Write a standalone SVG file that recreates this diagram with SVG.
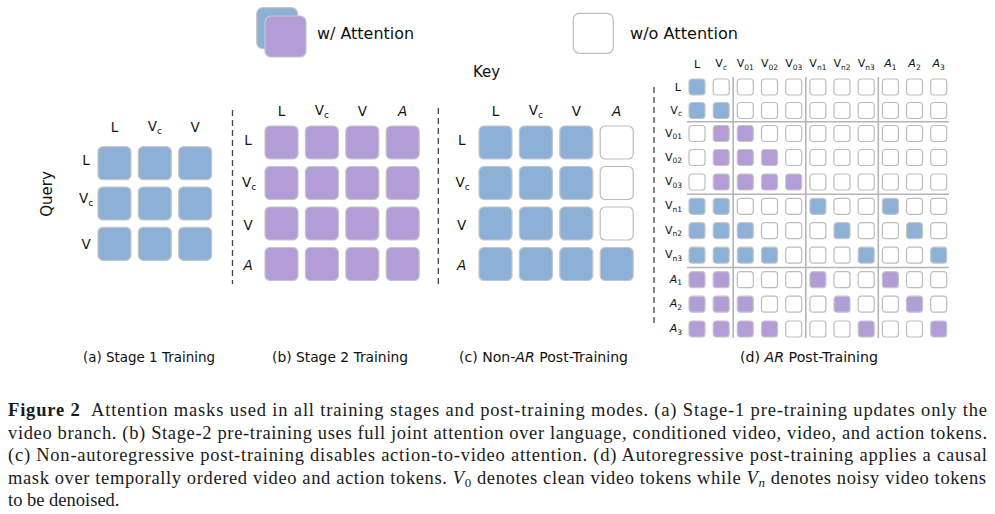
<svg xmlns="http://www.w3.org/2000/svg" xmlns:xlink="http://www.w3.org/1999/xlink" width="995" height="514" viewBox="0 0 995 514">
<style>
.b{fill:#8DB0D7;stroke:#C6C6C6;stroke-width:1.2}
.p{fill:#B39DD6;stroke:#C6C6C6;stroke-width:1.2}
.w{fill:#FFFFFF;stroke:#BDBDBD;stroke-width:1.2}
.lb{font-family:"DejaVu Sans",sans-serif;font-size:13.5px;fill:#111}
.pc{font-family:"DejaVu Sans",sans-serif;font-size:14px;fill:#111}
.lg{font-family:"DejaVu Sans",sans-serif;font-size:15px;fill:#111}
.lm{font-family:"DejaVu Sans",sans-serif;font-size:11px;fill:#111}
.sub{font-size:9px}
.subm{font-size:7.5px}
.it{font-style:italic}
.cap{font-family:"Liberation Serif",serif;font-size:18.5px;fill:#1a1a1a}
.dash{stroke:#444;stroke-width:1.3;stroke-dasharray:6 4;fill:none}
.grid{stroke:#B5B5B5;stroke-width:1.6}
</style>
<defs>
<rect id="S" width="33" height="33" rx="5"/>
<rect id="s" width="16" height="16" rx="3"/>
</defs>

<g id="legend">
<rect class="b" x="256.7" y="7.7" width="41" height="41" rx="6"/>
<rect class="p" x="265" y="16" width="41" height="41" rx="6"/>
<text class="lg" x="317" y="39" textLength="97" lengthAdjust="spacingAndGlyphs">w/ Attention</text>
<rect class="w" x="573.3" y="13.3" width="40" height="40" rx="6"/>
<text class="lg" x="630" y="39" textLength="108" lengthAdjust="spacingAndGlyphs">w/o Attention</text>
<text class="lg" x="473" y="77">Key</text>
<text class="lg" transform="translate(52,194) rotate(-90)" text-anchor="middle">Query</text>
</g>

<g id="separators">
<line class="dash" x1="232.5" y1="110" x2="232.5" y2="284"/>
<line class="dash" x1="438.3" y1="108" x2="438.3" y2="285"/>
<line class="dash" x1="654" y1="87" x2="654" y2="324"/>
</g>

<g id="panel-a">
<text class="lb" x="114.5" y="132" text-anchor="middle">L</text>
<text class="lb" x="154.8" y="131" text-anchor="middle">V<tspan class="sub" dy="3">c</tspan></text>
<text class="lb" x="195.1" y="132" text-anchor="middle">V</text>
<text class="lb" x="86" y="165" text-anchor="middle">L</text>
<text class="lb" x="86" y="203" text-anchor="middle">V<tspan class="sub" dy="3">c</tspan></text>
<text class="lb" x="86" y="249" text-anchor="middle">V</text>
<use xlink:href="#S" class="b" x="98" y="146.7"/><use xlink:href="#S" class="b" x="138.3" y="146.7"/><use xlink:href="#S" class="b" x="178.6" y="146.7"/>
<use xlink:href="#S" class="b" x="98" y="187"/><use xlink:href="#S" class="b" x="138.3" y="187"/><use xlink:href="#S" class="b" x="178.6" y="187"/>
<use xlink:href="#S" class="b" x="98" y="227.3"/><use xlink:href="#S" class="b" x="138.3" y="227.3"/><use xlink:href="#S" class="b" x="178.6" y="227.3"/>
<text class="pc" x="83" y="362" textLength="132" lengthAdjust="spacingAndGlyphs">(a) Stage 1 Training</text>
</g>

<g id="panel-b">
<text class="lb" x="281.5" y="116" text-anchor="middle">L</text>
<text class="lb" x="321.9" y="115" text-anchor="middle">V<tspan class="sub" dy="3">c</tspan></text>
<text class="lb" x="362.3" y="116" text-anchor="middle">V</text>
<text class="lb it" x="402.7" y="116" text-anchor="middle">A</text>
<text class="lb" x="248" y="145" text-anchor="middle">L</text>
<text class="lb" x="249" y="187" text-anchor="middle">V<tspan class="sub" dy="3">c</tspan></text>
<text class="lb" x="248" y="229.5" text-anchor="middle">V</text>
<text class="lb it" x="248" y="269.5" text-anchor="middle">A</text>
<use xlink:href="#S" class="p" x="265" y="126"/><use xlink:href="#S" class="p" x="305.4" y="126"/><use xlink:href="#S" class="p" x="345.8" y="126"/><use xlink:href="#S" class="p" x="386.2" y="126"/>
<use xlink:href="#S" class="p" x="265" y="166.5"/><use xlink:href="#S" class="p" x="305.4" y="166.5"/><use xlink:href="#S" class="p" x="345.8" y="166.5"/><use xlink:href="#S" class="p" x="386.2" y="166.5"/>
<use xlink:href="#S" class="p" x="265" y="207"/><use xlink:href="#S" class="p" x="305.4" y="207"/><use xlink:href="#S" class="p" x="345.8" y="207"/><use xlink:href="#S" class="p" x="386.2" y="207"/>
<use xlink:href="#S" class="p" x="265" y="247.5"/><use xlink:href="#S" class="p" x="305.4" y="247.5"/><use xlink:href="#S" class="p" x="345.8" y="247.5"/><use xlink:href="#S" class="p" x="386.2" y="247.5"/>
<text class="pc" x="272" y="362" textLength="136" lengthAdjust="spacingAndGlyphs">(b) Stage 2 Training</text>
</g>

<g id="panel-c">
<text class="lb" x="495.5" y="116" text-anchor="middle">L</text>
<text class="lb" x="535.9" y="115" text-anchor="middle">V<tspan class="sub" dy="3">c</tspan></text>
<text class="lb" x="576.3" y="116" text-anchor="middle">V</text>
<text class="lb it" x="616.7" y="116" text-anchor="middle">A</text>
<text class="lb" x="461.7" y="145" text-anchor="middle">L</text>
<text class="lb" x="462.7" y="187" text-anchor="middle">V<tspan class="sub" dy="3">c</tspan></text>
<text class="lb" x="461.7" y="229.5" text-anchor="middle">V</text>
<text class="lb it" x="461.7" y="269.5" text-anchor="middle">A</text>
<use xlink:href="#S" class="b" x="479" y="126"/><use xlink:href="#S" class="b" x="519.4" y="126"/><use xlink:href="#S" class="b" x="559.8" y="126"/><use xlink:href="#S" class="w" x="600.2" y="126"/>
<use xlink:href="#S" class="b" x="479" y="166.5"/><use xlink:href="#S" class="b" x="519.4" y="166.5"/><use xlink:href="#S" class="b" x="559.8" y="166.5"/><use xlink:href="#S" class="w" x="600.2" y="166.5"/>
<use xlink:href="#S" class="b" x="479" y="207"/><use xlink:href="#S" class="b" x="519.4" y="207"/><use xlink:href="#S" class="b" x="559.8" y="207"/><use xlink:href="#S" class="w" x="600.2" y="207"/>
<use xlink:href="#S" class="b" x="479" y="247.5"/><use xlink:href="#S" class="b" x="519.4" y="247.5"/><use xlink:href="#S" class="b" x="559.8" y="247.5"/><use xlink:href="#S" class="b" x="600.2" y="247.5"/>
<text class="pc" x="459" y="362" textLength="169" lengthAdjust="spacingAndGlyphs">(c) Non-<tspan class="it">AR</tspan> Post-Training</text>
</g>

<g id="panel-d">
<g id="d-grid">
<line class="grid" x1="733.2" y1="77" x2="733.2" y2="338"/>
<line class="grid" x1="805.8" y1="77" x2="805.8" y2="338"/>
<line class="grid" x1="878.3" y1="77" x2="878.3" y2="338"/>
<line class="grid" x1="687" y1="121.8" x2="949" y2="121.8"/>
<line class="grid" x1="687" y1="194.2" x2="949" y2="194.2"/>
<line class="grid" x1="687" y1="267.5" x2="949" y2="267.5"/>
</g>
<g id="d-col-labels">
<text class="lm" x="697" y="68" text-anchor="middle">L</text>
<text class="lm" x="721.2" y="67" text-anchor="middle">V<tspan class="subm" dy="2.5">c</tspan></text>
<text class="lm" x="745.3" y="67" text-anchor="middle">V<tspan class="subm" dy="2.5">01</tspan></text>
<text class="lm" x="769.5" y="67" text-anchor="middle">V<tspan class="subm" dy="2.5">02</tspan></text>
<text class="lm" x="793.7" y="67" text-anchor="middle">V<tspan class="subm" dy="2.5">03</tspan></text>
<text class="lm" x="817.9" y="67" text-anchor="middle">V<tspan class="subm" dy="2.5">n1</tspan></text>
<text class="lm" x="842" y="67" text-anchor="middle">V<tspan class="subm" dy="2.5">n2</tspan></text>
<text class="lm" x="866.2" y="67" text-anchor="middle">V<tspan class="subm" dy="2.5">n3</tspan></text>
<text class="lm" x="890.4" y="67" text-anchor="middle"><tspan class="it">A</tspan><tspan class="subm" dy="2.5">1</tspan></text>
<text class="lm" x="914.5" y="67" text-anchor="middle"><tspan class="it">A</tspan><tspan class="subm" dy="2.5">2</tspan></text>
<text class="lm" x="938.7" y="67" text-anchor="middle"><tspan class="it">A</tspan><tspan class="subm" dy="2.5">3</tspan></text>
</g>
<g id="d-row-labels">
<text class="lm" x="681" y="91" text-anchor="end">L</text>
<text class="lm" x="682" y="113.5" text-anchor="end">V<tspan class="subm" dy="2.5">c</tspan></text>
<text class="lm" x="682" y="136.5" text-anchor="end">V<tspan class="subm" dy="2.5">01</tspan></text>
<text class="lm" x="682" y="160.5" text-anchor="end">V<tspan class="subm" dy="2.5">02</tspan></text>
<text class="lm" x="682" y="185" text-anchor="end">V<tspan class="subm" dy="2.5">03</tspan></text>
<text class="lm" x="682" y="209.3" text-anchor="end">V<tspan class="subm" dy="2.5">n1</tspan></text>
<text class="lm" x="682" y="233.7" text-anchor="end">V<tspan class="subm" dy="2.5">n2</tspan></text>
<text class="lm" x="682" y="258.2" text-anchor="end">V<tspan class="subm" dy="2.5">n3</tspan></text>
<text class="lm" x="682" y="282.7" text-anchor="end"><tspan class="it">A</tspan><tspan class="subm" dy="2.5">1</tspan></text>
<text class="lm" x="682" y="307.2" text-anchor="end"><tspan class="it">A</tspan><tspan class="subm" dy="2.5">2</tspan></text>
<text class="lm" x="682" y="332" text-anchor="end"><tspan class="it">A</tspan><tspan class="subm" dy="2.5">3</tspan></text>
</g>
<g id="d-cells">
<!-- row L -->
<use xlink:href="#s" class="b" x="689" y="79"/><use xlink:href="#s" class="w" x="713.2" y="79"/><use xlink:href="#s" class="w" x="737.3" y="79"/><use xlink:href="#s" class="w" x="761.5" y="79"/><use xlink:href="#s" class="w" x="785.7" y="79"/><use xlink:href="#s" class="w" x="809.9" y="79"/><use xlink:href="#s" class="w" x="834" y="79"/><use xlink:href="#s" class="w" x="858.2" y="79"/><use xlink:href="#s" class="w" x="882.4" y="79"/><use xlink:href="#s" class="w" x="906.5" y="79"/><use xlink:href="#s" class="w" x="930.7" y="79"/>
<!-- row Vc -->
<use xlink:href="#s" class="b" x="689" y="102.5"/><use xlink:href="#s" class="b" x="713.2" y="102.5"/><use xlink:href="#s" class="w" x="737.3" y="102.5"/><use xlink:href="#s" class="w" x="761.5" y="102.5"/><use xlink:href="#s" class="w" x="785.7" y="102.5"/><use xlink:href="#s" class="w" x="809.9" y="102.5"/><use xlink:href="#s" class="w" x="834" y="102.5"/><use xlink:href="#s" class="w" x="858.2" y="102.5"/><use xlink:href="#s" class="w" x="882.4" y="102.5"/><use xlink:href="#s" class="w" x="906.5" y="102.5"/><use xlink:href="#s" class="w" x="930.7" y="102.5"/>
<!-- row V01 -->
<use xlink:href="#s" class="w" x="689" y="125.5"/><use xlink:href="#s" class="p" x="713.2" y="125.5"/><use xlink:href="#s" class="p" x="737.3" y="125.5"/><use xlink:href="#s" class="w" x="761.5" y="125.5"/><use xlink:href="#s" class="w" x="785.7" y="125.5"/><use xlink:href="#s" class="w" x="809.9" y="125.5"/><use xlink:href="#s" class="w" x="834" y="125.5"/><use xlink:href="#s" class="w" x="858.2" y="125.5"/><use xlink:href="#s" class="w" x="882.4" y="125.5"/><use xlink:href="#s" class="w" x="906.5" y="125.5"/><use xlink:href="#s" class="w" x="930.7" y="125.5"/>
<!-- row V02 -->
<use xlink:href="#s" class="w" x="689" y="149.5"/><use xlink:href="#s" class="p" x="713.2" y="149.5"/><use xlink:href="#s" class="p" x="737.3" y="149.5"/><use xlink:href="#s" class="p" x="761.5" y="149.5"/><use xlink:href="#s" class="w" x="785.7" y="149.5"/><use xlink:href="#s" class="w" x="809.9" y="149.5"/><use xlink:href="#s" class="w" x="834" y="149.5"/><use xlink:href="#s" class="w" x="858.2" y="149.5"/><use xlink:href="#s" class="w" x="882.4" y="149.5"/><use xlink:href="#s" class="w" x="906.5" y="149.5"/><use xlink:href="#s" class="w" x="930.7" y="149.5"/>
<!-- row V03 -->
<use xlink:href="#s" class="w" x="689" y="174"/><use xlink:href="#s" class="p" x="713.2" y="174"/><use xlink:href="#s" class="p" x="737.3" y="174"/><use xlink:href="#s" class="p" x="761.5" y="174"/><use xlink:href="#s" class="p" x="785.7" y="174"/><use xlink:href="#s" class="w" x="809.9" y="174"/><use xlink:href="#s" class="w" x="834" y="174"/><use xlink:href="#s" class="w" x="858.2" y="174"/><use xlink:href="#s" class="w" x="882.4" y="174"/><use xlink:href="#s" class="w" x="906.5" y="174"/><use xlink:href="#s" class="w" x="930.7" y="174"/>
<!-- row Vn1 -->
<use xlink:href="#s" class="b" x="689" y="198.3"/><use xlink:href="#s" class="b" x="713.2" y="198.3"/><use xlink:href="#s" class="w" x="737.3" y="198.3"/><use xlink:href="#s" class="w" x="761.5" y="198.3"/><use xlink:href="#s" class="w" x="785.7" y="198.3"/><use xlink:href="#s" class="b" x="809.9" y="198.3"/><use xlink:href="#s" class="w" x="834" y="198.3"/><use xlink:href="#s" class="w" x="858.2" y="198.3"/><use xlink:href="#s" class="b" x="882.4" y="198.3"/><use xlink:href="#s" class="w" x="906.5" y="198.3"/><use xlink:href="#s" class="w" x="930.7" y="198.3"/>
<!-- row Vn2 -->
<use xlink:href="#s" class="b" x="689" y="222.7"/><use xlink:href="#s" class="b" x="713.2" y="222.7"/><use xlink:href="#s" class="b" x="737.3" y="222.7"/><use xlink:href="#s" class="w" x="761.5" y="222.7"/><use xlink:href="#s" class="w" x="785.7" y="222.7"/><use xlink:href="#s" class="w" x="809.9" y="222.7"/><use xlink:href="#s" class="b" x="834" y="222.7"/><use xlink:href="#s" class="w" x="858.2" y="222.7"/><use xlink:href="#s" class="w" x="882.4" y="222.7"/><use xlink:href="#s" class="b" x="906.5" y="222.7"/><use xlink:href="#s" class="w" x="930.7" y="222.7"/>
<!-- row Vn3 -->
<use xlink:href="#s" class="b" x="689" y="247.2"/><use xlink:href="#s" class="b" x="713.2" y="247.2"/><use xlink:href="#s" class="b" x="737.3" y="247.2"/><use xlink:href="#s" class="b" x="761.5" y="247.2"/><use xlink:href="#s" class="w" x="785.7" y="247.2"/><use xlink:href="#s" class="w" x="809.9" y="247.2"/><use xlink:href="#s" class="w" x="834" y="247.2"/><use xlink:href="#s" class="b" x="858.2" y="247.2"/><use xlink:href="#s" class="w" x="882.4" y="247.2"/><use xlink:href="#s" class="w" x="906.5" y="247.2"/><use xlink:href="#s" class="b" x="930.7" y="247.2"/>
<!-- row A1 -->
<use xlink:href="#s" class="p" x="689" y="271.7"/><use xlink:href="#s" class="p" x="713.2" y="271.7"/><use xlink:href="#s" class="w" x="737.3" y="271.7"/><use xlink:href="#s" class="w" x="761.5" y="271.7"/><use xlink:href="#s" class="w" x="785.7" y="271.7"/><use xlink:href="#s" class="p" x="809.9" y="271.7"/><use xlink:href="#s" class="w" x="834" y="271.7"/><use xlink:href="#s" class="w" x="858.2" y="271.7"/><use xlink:href="#s" class="p" x="882.4" y="271.7"/><use xlink:href="#s" class="w" x="906.5" y="271.7"/><use xlink:href="#s" class="w" x="930.7" y="271.7"/>
<!-- row A2 -->
<use xlink:href="#s" class="p" x="689" y="296.2"/><use xlink:href="#s" class="p" x="713.2" y="296.2"/><use xlink:href="#s" class="p" x="737.3" y="296.2"/><use xlink:href="#s" class="w" x="761.5" y="296.2"/><use xlink:href="#s" class="w" x="785.7" y="296.2"/><use xlink:href="#s" class="w" x="809.9" y="296.2"/><use xlink:href="#s" class="p" x="834" y="296.2"/><use xlink:href="#s" class="w" x="858.2" y="296.2"/><use xlink:href="#s" class="w" x="882.4" y="296.2"/><use xlink:href="#s" class="p" x="906.5" y="296.2"/><use xlink:href="#s" class="w" x="930.7" y="296.2"/>
<!-- row A3 -->
<use xlink:href="#s" class="p" x="689" y="321"/><use xlink:href="#s" class="p" x="713.2" y="321"/><use xlink:href="#s" class="p" x="737.3" y="321"/><use xlink:href="#s" class="p" x="761.5" y="321"/><use xlink:href="#s" class="w" x="785.7" y="321"/><use xlink:href="#s" class="w" x="809.9" y="321"/><use xlink:href="#s" class="w" x="834" y="321"/><use xlink:href="#s" class="p" x="858.2" y="321"/><use xlink:href="#s" class="w" x="882.4" y="321"/><use xlink:href="#s" class="w" x="906.5" y="321"/><use xlink:href="#s" class="p" x="930.7" y="321"/>
</g>
<text class="pc" x="740" y="362" textLength="138" lengthAdjust="spacingAndGlyphs">(d) <tspan class="it">AR</tspan> Post-Training</text>
</g>

<g id="caption">
<text class="cap" x="8" y="416" textLength="979" lengthAdjust="spacing"><tspan font-weight="bold">Figure 2</tspan><tspan dx="6"> Attention masks used in all training stages and post-training modes. (a) Stage-1 pre-training updates only the</tspan></text>
<text class="cap" x="8" y="438.5" textLength="979" lengthAdjust="spacing">video branch. (b) Stage-2 pre-training uses full joint attention over language, conditioned video, video, and action tokens.</text>
<text class="cap" x="8" y="461" textLength="979" lengthAdjust="spacing">(c) Non-autoregressive post-training disables action-to-video attention. (d) Autoregressive post-training applies a causal</text>
<text class="cap" x="8" y="483.5" textLength="978" lengthAdjust="spacing">mask over temporally ordered video and action tokens. <tspan class="it">V</tspan><tspan font-size="13" dy="3">0</tspan><tspan dy="-3"> denotes clean video tokens while </tspan><tspan class="it">V</tspan><tspan class="it" font-size="13" dy="3">n</tspan><tspan dy="-3"> denotes noisy video tokens</tspan></text>
<text class="cap" x="8" y="506">to be denoised.</text>
</g>
</svg>
